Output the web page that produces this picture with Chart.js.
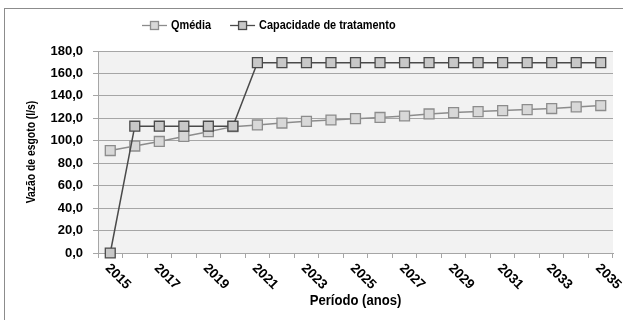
<!DOCTYPE html>
<html>
<head>
<meta charset="utf-8">
<script src="https://cdn.jsdelivr.net/npm/chart.js@4/dist/chart.umd.min.js"></script>
<style>
  html, body { margin: 0; padding: 0; background: #fff; }
</style>
</head>
<body>
<canvas id="chart" width="623" height="320"></canvas>
<script>
// ── Dados ────────────────────────────────────────────────────────────────────

const anos = ['2015', '2016', '2017', '2018', '2019', '2020', '2021', '2022', '2023', '2024', '2025',
              '2026', '2027', '2028', '2029', '2030', '2031', '2032', '2033', '2034', '2035'];

// rótulos exibidos no eixo X (a cada dois anos)
const rotulosX = ['2015', '2017', '2019', '2021', '2023', '2025', '2027', '2029', '2031', '2033', '2035'];

const qMedia = [91.3, 95.3, 99.4, 103.9, 108.1, 112.6, 114.1, 115.8, 117.3, 118.5, 119.7,
                120.8, 122.1, 123.9, 125.1, 126.0, 126.9, 127.8, 128.7, 130.2, 131.4];

const capacidade = [0, 113, 113, 113, 113, 113, 169.6, 169.6, 169.6, 169.6, 169.6,
                    169.6, 169.6, 169.6, 169.6, 169.6, 169.6, 169.6, 169.6, 169.6, 169.6];

const yMin = 0, yMax = 180, yPasso = 20;

const tituloY = 'Vazão de esgoto (l/s)';
const tituloX = 'Período (anos)';

// ── Estilo ───────────────────────────────────────────────────────────────────

const FONTE = '"Liberation Sans", Arial, sans-serif';
const GRADE = '#a6a6a6';

const series = [
  { label: 'Qmédia',                   data: qMedia,     line: '#8c8c8c', fill: '#d8d8d8', order: 1 },
  { label: 'Capacidade de tratamento', data: capacidade, line: '#4a4a4a', fill: '#c8c8c8', order: 0 },
];

// texto em negrito, com compressão horizontal opcional (fonte estreita)
function texto(ctx, str, x, y, tam, escX, rot, align) {
  ctx.save();
  ctx.translate(x, y);
  if (rot) ctx.rotate(rot);
  ctx.scale(escX, 1);
  ctx.font = `bold ${tam}px ${FONTE}`;
  ctx.textAlign = align;
  ctx.textBaseline = 'middle';
  ctx.fillStyle = '#000';
  ctx.fillText(str, 0, 0);
  const w = ctx.measureText(str).width * escX;
  ctx.restore();
  return w;
}

// ── Plugin: fundo, moldura, rótulos girados, títulos e legenda ───────────────

const decoracao = {
  id: 'decoracao',
  beforeDraw(chart) {
    const { ctx, chartArea: a } = chart;
    ctx.save();
    ctx.fillStyle = '#fff';
    ctx.fillRect(0, 0, chart.width, chart.height);
    ctx.strokeStyle = '#8c8c8c';
    ctx.lineWidth = 1;
    ctx.strokeRect(4.5, 8.5, chart.width + 10, chart.height + 10);
    ctx.fillStyle = '#f2f2f2';
    ctx.fillRect(a.left, a.top, a.right - a.left, a.bottom - a.top);
    ctx.restore();
  },
  afterDraw(chart) {
    const { ctx, chartArea: a } = chart;
    const xs = chart.scales.x;

    // rótulos do eixo X, inclinados 45° para baixo
    rotulosX.forEach(r => {
      const x = xs.getPixelForValue(anos.indexOf(r));
      texto(ctx, r, x - 3, a.bottom + 13, 13.5, 1, Math.PI / 4, 'left');
    });

    // títulos dos eixos
    texto(ctx, tituloX, (a.left + a.right) / 2, 301, 14, 0.935, 0, 'center');
    texto(ctx, tituloY, 32, 152, 12.5, 0.83, -Math.PI / 2, 'center');

    // legenda: linha + quadrado + texto
    let x0 = 142;
    const yl = 25.5;
    series.forEach(s => {
      ctx.save();
      ctx.strokeStyle = s.line;
      ctx.lineWidth = 1.3;
      ctx.beginPath();
      ctx.moveTo(x0, yl);
      ctx.lineTo(x0 + 25, yl);
      ctx.stroke();
      ctx.fillStyle = s.fill;
      ctx.fillRect(x0 + 8.5, yl - 4, 8, 8);
      ctx.strokeRect(x0 + 8.5, yl - 4, 8, 8);
      ctx.restore();
      const w = texto(ctx, s.label, x0 + 29, yl, 13, 0.84, 0, 'left');
      x0 += 29 + w + 19;
    });
  }
};

// ── Gráfico ──────────────────────────────────────────────────────────────────

new Chart(document.getElementById('chart'), {
  type: 'line',
  data: {
    labels: anos,
    datasets: series.map(s => ({
      label: s.label,
      data: s.data,
      order: s.order,
      borderColor: s.line,
      borderWidth: 1.5,
      pointStyle: 'rect',
      pointRadius: 7,
      pointBackgroundColor: s.fill,
      pointBorderColor: s.line,
      pointBorderWidth: 1.3,
      tension: 0,
      clip: false,
    })),
  },
  options: {
    responsive: false,
    animation: false,
    events: [],
    layout: { padding: { left: 4, right: 10, top: 51, bottom: 0 } },
    plugins: {
      legend: { display: false },
      tooltip: { enabled: false },
    },
    scales: {
      x: {
        offset: true,
        grid: { offset: true, drawOnChartArea: false, tickLength: 5, color: GRADE },
        border: { color: GRADE },
        ticks: { display: false },
        afterFit: s => { s.height = 67; },
      },
      y: {
        min: yMin,
        max: yMax,
        ticks: {
          stepSize: yPasso,
          padding: 10,
          color: '#000',
          font: { family: FONTE, size: 13, weight: 'bold' },
          callback: v => v.toFixed(1).replace('.', ','),
        },
        grid: { color: GRADE, tickLength: 5 },
        border: { color: GRADE },
        afterFit: s => { s.width = 94; },
      },
    },
  },
  plugins: [decoracao],
});
</script>
</body>
</html>
